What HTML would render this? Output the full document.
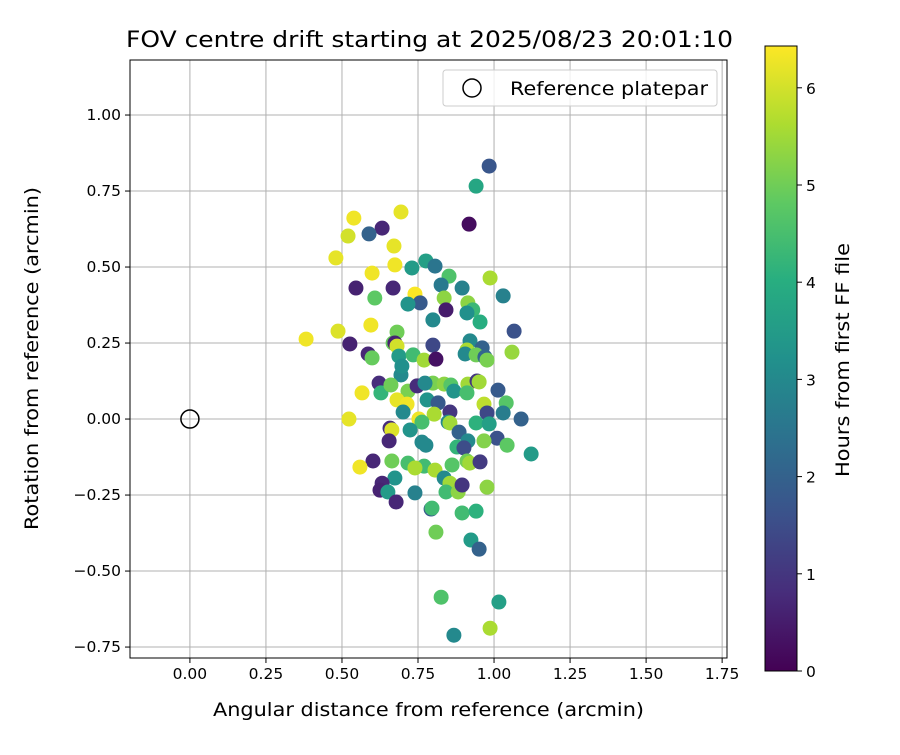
<!DOCTYPE html>
<html><head><meta charset="utf-8"><style>
body{margin:0;background:#fff;}
svg text{font-family:"DejaVu Sans","Liberation Sans",sans-serif;fill:#000;}
</style></head><body>
<svg id="chart" width="900" height="750" viewBox="0 0 900 750" xmlns="http://www.w3.org/2000/svg">
<defs>
<linearGradient id="viridis" x1="0" y1="1" x2="0" y2="0">
<stop offset="0" stop-color="#440154"/><stop offset="0.125" stop-color="#472d7b"/><stop offset="0.25" stop-color="#3b528b"/><stop offset="0.375" stop-color="#2c728e"/><stop offset="0.5" stop-color="#21918c"/><stop offset="0.625" stop-color="#28ae80"/><stop offset="0.75" stop-color="#5ec962"/><stop offset="0.875" stop-color="#addc30"/><stop offset="1" stop-color="#fde725"/>
</linearGradient>
</defs>
<text x="126" y="47" font-size="22" textLength="607" lengthAdjust="spacingAndGlyphs">FOV centre drift starting at 2025/08/23 20:01:10</text>
<g id="grid"></g>
<g id="xticks"></g>
<g id="yticks"></g>
<g id="points"></g>
<circle id="refmark" r="9" fill="none" stroke="#000" stroke-width="1.5"/>
<rect x="130" y="60" width="597" height="598" fill="none" stroke="#000" stroke-width="1"/>
<g>
<rect x="443" y="70" width="274" height="36" rx="3" fill="#fff" fill-opacity="0.8" stroke="#ccc"/>
<circle cx="472" cy="88" r="9" fill="none" stroke="#000" stroke-width="1.5"/>
<text x="510" y="95" font-size="19" textLength="198" lengthAdjust="spacingAndGlyphs">Reference platepar</text>
</g>
<text x="213" y="716" font-size="19" textLength="431" lengthAdjust="spacingAndGlyphs">Angular distance from reference (arcmin)</text>
<text transform="translate(38,530) rotate(-90)" font-size="19" textLength="343" lengthAdjust="spacingAndGlyphs">Rotation from reference (arcmin)</text>
<rect x="765" y="46" width="32" height="625" fill="url(#viridis)" stroke="#000" stroke-width="1"/>
<g id="cticks"></g>
<text transform="translate(849,477) rotate(-90)" font-size="19" textLength="234" lengthAdjust="spacingAndGlyphs">Hours from first FF file</text>
</svg>
<script>
const xTicks=[0,0.25,0.5,0.75,1.0,1.25,1.5,1.75];
const xTickLabels=["0.00","0.25","0.50","0.75","1.00","1.25","1.50","1.75"];
const yTicks=[-0.75,-0.5,-0.25,0,0.25,0.5,0.75,1.0];
const yTickLabels=["−0.75","−0.50","−0.25","0.00","0.25","0.50","0.75","1.00"];
const cTicks=[0,1,2,3,4,5,6];
const xs=[0.984,0.941,0.918,0.539,0.52,0.632,0.589,0.694,0.671,0.48,0.674,0.599,0.73,0.776,0.806,0.852,0.987,0.546,0.668,0.826,0.895,0.608,0.74,0.836,0.842,0.757,0.717,0.914,1.03,0.93,0.911,0.954,0.799,0.595,1.066,0.681,0.487,0.382,0.526,0.668,0.674,0.681,0.799,0.921,0.961,0.911,0.586,0.687,0.599,0.734,0.77,0.809,0.905,0.941,0.97,0.977,1.059,0.694,0.697,0.622,0.628,0.566,0.661,0.717,0.799,0.836,0.858,0.747,0.773,0.914,0.944,0.951,1.013,0.868,0.911,0.681,0.714,0.78,0.816,0.967,1.04,0.855,0.803,0.977,1.03,1.089,0.701,0.523,0.753,0.763,0.849,0.855,0.941,0.984,0.885,0.658,0.664,0.724,1.01,0.967,0.914,1.043,0.655,0.763,0.776,0.878,0.901,1.122,0.602,0.664,0.717,0.77,0.74,0.806,0.862,0.911,0.92,0.954,0.836,0.559,0.674,0.632,0.855,0.625,0.651,0.842,0.882,0.977,0.895,0.678,0.74,0.793,0.796,0.895,0.941,0.809,0.924,0.951,0.826,1.016,0.987,0.868];
const ys=[0.832,0.766,0.641,0.661,0.602,0.628,0.609,0.681,0.569,0.53,0.507,0.48,0.497,0.52,0.503,0.47,0.464,0.431,0.431,0.441,0.431,0.398,0.411,0.398,0.359,0.382,0.378,0.382,0.405,0.359,0.349,0.319,0.326,0.309,0.289,0.286,0.289,0.263,0.247,0.25,0.25,0.24,0.243,0.257,0.234,0.227,0.214,0.207,0.201,0.211,0.194,0.197,0.214,0.211,0.204,0.194,0.22,0.145,0.174,0.118,0.086,0.086,0.112,0.092,0.118,0.115,0.112,0.109,0.118,0.115,0.125,0.122,0.095,0.092,0.086,0.063,0.049,0.063,0.053,0.049,0.053,0.023,0.016,0.02,0.02,0,0.023,0,0,-0.01,-0.01,-0.013,-0.013,-0.016,-0.043,-0.03,-0.036,-0.036,-0.063,-0.072,-0.072,-0.086,-0.072,-0.076,-0.086,-0.092,-0.095,-0.115,-0.138,-0.138,-0.145,-0.155,-0.161,-0.168,-0.151,-0.138,-0.145,-0.141,-0.194,-0.158,-0.194,-0.211,-0.211,-0.234,-0.24,-0.24,-0.24,-0.224,-0.217,-0.273,-0.243,-0.296,-0.293,-0.309,-0.303,-0.372,-0.398,-0.428,-0.586,-0.602,-0.688,-0.711];
const hours=[1.7,3.8,0.2,6.3,6.0,0.7,2.0,6.2,6.2,6.2,6.3,6.3,3.5,3.6,2.5,4.6,5.6,0.6,0.7,2.6,2.8,4.8,6.4,5.3,0.5,1.8,3.3,5.3,2.8,4.3,3.2,4.0,3.0,6.3,1.6,5.0,6.1,6.3,0.6,4.9,0.6,6.0,1.4,3.0,2.0,5.6,0.7,3.5,4.9,4.4,5.5,0.3,3.0,5.0,2.1,5.1,5.4,3.0,3.2,0.8,4.2,6.3,5.0,5.1,5.1,5.3,4.7,0.8,3.0,5.5,1.0,5.5,1.8,3.3,4.5,6.2,6.3,3.3,1.8,5.8,4.7,1.0,5.6,1.4,2.7,2.0,3.0,6.2,6.3,4.5,3.0,5.5,4.1,3.6,2.0,0.8,6.1,3.3,1.6,5.2,3.0,4.8,0.7,3.0,3.0,4.2,1.5,3.5,0.7,5.0,4.5,4.4,5.6,5.6,4.7,5.0,5.5,1.1,3.0,6.3,3.3,0.7,5.5,0.6,3.5,4.4,5.3,5.3,1.0,0.7,2.8,1.8,4.4,4.4,4.1,5.0,3.5,2.0,4.6,3.6,5.6,3.0];
const refPoint=[0,0];
const L=130,R=727,T=60,B=658;
const xMin=-0.197,xMax=1.766,yMin=-0.786,yMax=1.181,cMax=6.43;
const sx=v=>L+(v-xMin)/(xMax-xMin)*(R-L);
const sy=v=>B-(v-yMin)/(yMax-yMin)*(B-T);
const cy=v=>671-v/cMax*625;
const vir=[[68,1,84],[71,45,123],[59,82,139],[44,114,142],[33,145,140],[40,174,128],[94,201,98],[173,220,48],[253,231,37]];
function viridis(t){t=Math.max(0,Math.min(1,t));const f=t*8,i=Math.min(7,Math.floor(f)),u=f-i;const a=vir[i],b=vir[i+1];return 'rgb('+a.map((c,k)=>Math.round(c+(b[k]-c)*u)).join(',')+')';}
const NS='http://www.w3.org/2000/svg';
function mk(tag,attrs,parent){const e=document.createElementNS(NS,tag);for(const k in attrs)e.setAttribute(k,attrs[k]);parent.appendChild(e);return e;}
const grid=document.getElementById('grid'),gx=document.getElementById('xticks'),gy=document.getElementById('yticks'),gp=document.getElementById('points'),gc=document.getElementById('cticks');
xTicks.forEach((v,i)=>{const x=sx(v);
const g=mk('line',{x1:x,x2:x,y1:T,y2:B,stroke:'#b0b0b0','stroke-width':1},grid);


const t=mk('line',{x1:x,x2:x,y1:B,y2:B+5,stroke:'#000'},gx);


const l=mk('text',{x:x,y:B+21,'font-size':15.5,'text-anchor':'middle'},gx);l.textContent=xTickLabels[i];

});
yTicks.forEach((v,i)=>{const y=sy(v);
const g=mk('line',{x1:L,x2:R,y1:y,y2:y,stroke:'#b0b0b0','stroke-width':1},grid);


const t=mk('line',{x1:L-5,x2:L,y1:y,y2:y,stroke:'#000'},gy);


const l=mk('text',{x:L-9,y:y+5,'font-size':15.5,'text-anchor':'end'},gy);l.textContent=yTickLabels[i];

});
xs.forEach((v,i)=>{
const c=mk('circle',{cx:sx(v),cy:sy(ys[i]),r:7.5,fill:viridis(hours[i]/cMax)},gp);

});
const rm=document.getElementById('refmark');rm.setAttribute('cx',sx(refPoint[0]));rm.setAttribute('cy',sy(refPoint[1]));
cTicks.forEach(v=>{const y=cy(v);
const t=mk('line',{x1:797,x2:802,y1:y,y2:y,stroke:'#000'},gc);


const l=mk('text',{x:806,y:y+6,'font-size':15.5},gc);l.textContent=String(v);

});
</script>
</body></html>
